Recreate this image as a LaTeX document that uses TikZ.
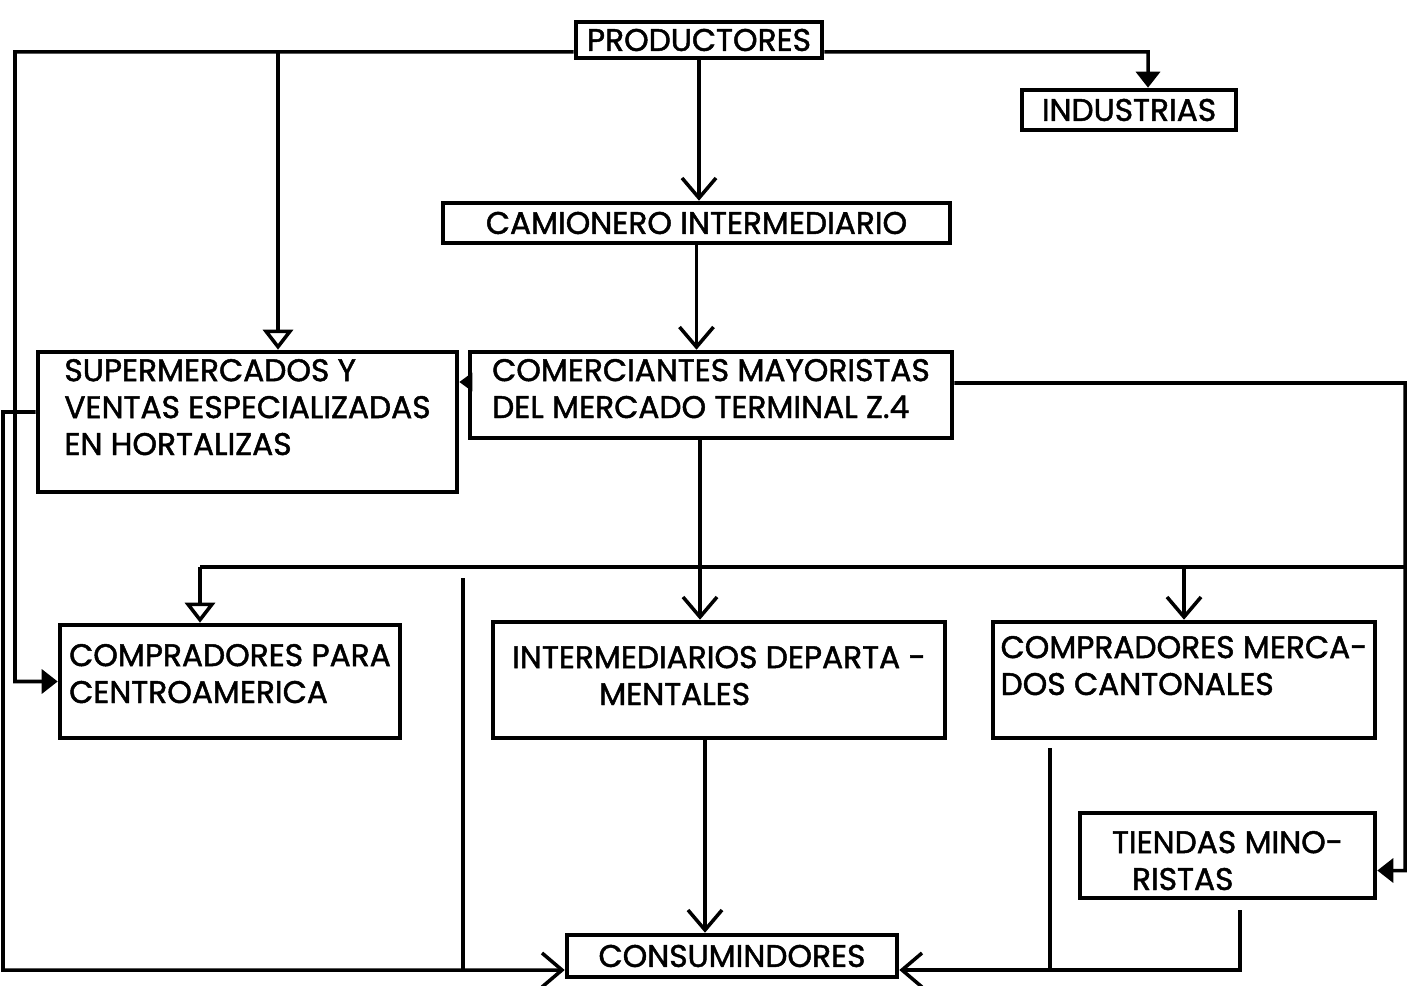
\documentclass[tikz,border=0pt]{standalone}
\usepackage{fontspec}
\setmainfont{Poppins}[FakeBold=1.5]
\usetikzlibrary{arrows.meta}

\begin{document}
\begin{tikzpicture}[
        box/.style={draw, line width=1.3pt, inner sep=0pt, align=left,
                    font={\fontsize{8.9}{10.5}\selectfont}},
        conn/.style={line width=1pt},
        tipv/.style={-{Straight Barb[length=2mm,width=3.4mm]}},
        tipo/.style={-{Triangle[open,length=2mm,width=3mm]}},
        tipf/.style={-{Triangle[length=1.6mm,width=2.4mm]}},
        tips/.style={-{Triangle[length=1.3mm,width=1.8mm]}}
    ]
        \useasboundingbox (0,0) rectangle (14.07,-9.85);

        \node[box, minimum width=2.46cm, minimum height=0.36cm] (prod) at (6.99,-0.40) {PRODUCTORES};
        \node[box, minimum width=2.14cm, minimum height=0.40cm] (ind)  at (11.29,-1.10) {INDUSTRIAS};
        \node[box, minimum width=5.07cm, minimum height=0.40cm] (cam)  at (6.965,-2.23) {CAMIONERO INTERMEDIARIO};
        \node[box, minimum width=4.19cm, text height=10.3mm, text depth=3.7mm] (super) at (2.475,-4.22)
            {SUPERMERCADOS Y\\VENTAS ESPECIALIZADAS\\EN HORTALIZAS};
        \node[box, minimum width=4.82cm, text height=6.6mm, text depth=2.0mm] (comer) at (7.11,-3.95)
            {COMERCIANTES MAYORISTAS\\DEL MERCADO TERMINAL Z.4};
        \node[box, minimum width=3.40cm, text height=7.8mm, text depth=3.5mm] (cca) at (2.30,-6.815)
            {COMPRADORES PARA\\CENTROAMERICA};
        \node[box, minimum width=4.52cm, text height=8.3mm, text depth=3.3mm] (idep) at (7.19,-6.80)
            {INTERMEDIARIOS DEPARTA -\\\hspace*{8.7mm}MENTALES};
        \node[box, minimum width=3.82cm, text height=7.3mm, text depth=4.3mm] (cmc) at (11.84,-6.80)
            {COMPRADORES MERCA-\\DOS CANTONALES};
        \node[box, minimum width=2.95cm, text height=7.7mm, text depth=0.8mm] (tien) at (12.275,-8.555)
            {TIENDAS MINO-\\\hspace*{2mm}RISTAS};
        \node[box, minimum width=3.30cm, minimum height=0.42cm] (cons) at (7.32,-9.56) {CONSUMINDORES};

        % junctions of the lines
        \coordinate (jl)   at (0.15,-0.52);
        \coordinate (js)   at (2.78,-0.52);
        \coordinate (jr)   at (11.48,-0.52);
        \coordinate (jw)   at (0.03,-4.12);
        \coordinate (je)   at (14.05,-3.83);
        \coordinate (jb)   at (2.00,-5.67);
        \coordinate (jbr)  at (14.05,-5.67);
        \coordinate (jm)   at (4.63,-5.78);
        \coordinate (jc)   at (10.50,-7.48);
        \coordinate (jt)   at (12.40,-9.10);
        \coordinate (jlow) at (0,-9.70);

        \draw[conn, tipf] ([yshift=-1.2mm]prod.west) -- (jl) |- (cca.west);
        \draw[conn, tipo] (js) -- (js |- super.north);
        \draw[conn, tipf] ([yshift=-1.2mm]prod.east) -- (jr) -- (jr |- ind.north);
        \draw[conn, tipv] (prod.south) -- (prod.south |- cam.north);
        \draw[conn, tipv] (cam.south) -- (cam.south |- comer.north);
        \draw[conn, tips] ([yshift=1.3mm]comer.west) -- ([yshift=1.3mm]comer.west -| super.east);

        \draw[conn] ([xshift=-1.1mm]comer.south) -- ([xshift=-1.1mm]comer.south |- jb);
        \draw[conn] (jb) -- (jbr);
        \draw[conn, tipo] (jb) -- (jb |- cca.north);
        \draw[conn, tipv] ([xshift=-1.9mm]idep.north |- jb) -- ([xshift=-1.9mm]idep.north);
        \draw[conn, tipv] (cmc.north |- jb) -- (cmc.north);
        \draw[conn, tipf] ([yshift=1.2mm]comer.east) -- (je) |- ([yshift=-1.5mm]tien.east);

        \draw[conn, tipv] ([yshift=1mm]super.west) -- (jw) |- ([yshift=-1.4mm]cons.west);
        \draw[conn] (jm) -- (jm |- jlow);
        \draw[conn, tipv] ([xshift=-1.4mm]idep.south) -- ([xshift=-1.4mm]idep.south |- cons.north);
        \draw[conn] (jc) -- (jc |- jlow);
        \draw[conn, tipv] (jt) |- ([yshift=-1.4mm]cons.east);
    \end{tikzpicture}
\end{document}
